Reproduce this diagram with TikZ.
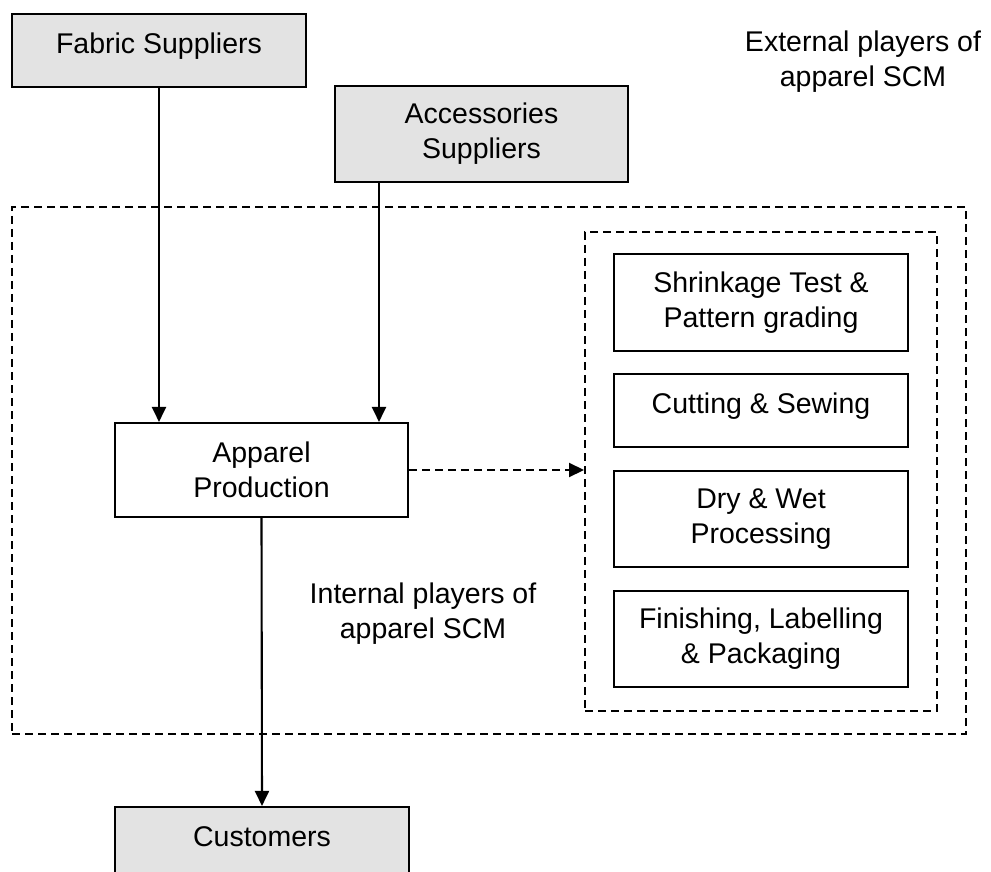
\documentclass[tikz,border=0pt]{standalone}
\usepackage{fontspec}
\setmainfont{Liberation Sans}
\usetikzlibrary{arrows.meta}
\begin{document}
\begin{tikzpicture}[x=1pt,y=-1pt,
  txt/.style={font=\fontsize{28.5}{35}\selectfont},
  box/.style={draw, line width=2.1pt, inner sep=0pt, align=center, txt},
  oneline/.style={text depth=14pt},
  supplier/.style={box, fill=black!11},
  frame/.style={draw, line width=2pt, dash pattern=on 8pt off 5pt, inner sep=0pt},
  flow/.style={line width=2.1pt, -{Triangle[length=15pt,width=14pt]}},
  dashflow/.style={flow, dash pattern=on 8pt off 5pt},
  note/.style={align=center, txt}]
\useasboundingbox (0,0) rectangle (991,872);
\clip (0,0) rectangle (991,872);

% dashed frames of the internal chain
\node[frame, minimum width=954, minimum height=527] (outer) at (489,470.5) {};
\node[frame, minimum width=352, minimum height=479] (inner) at (761,471.5) {};

% external players
\node[supplier, oneline, minimum width=294, minimum height=73] (fabric) at (159,50.5) {Fabric Suppliers};
\node[supplier, minimum width=293, minimum height=96] (acc) at (481.5,134) {Accessories\\Suppliers};
\node[supplier, oneline, minimum width=294, minimum height=73] (cust) at (262,843.5) {Customers};

% production and its stages
\node[box, minimum width=293, minimum height=94] (prod) at (261.5,470) {Apparel\\Production};
\node[box, minimum width=294, minimum height=97] (shrink) at (761,302.5) {Shrinkage Test \&\\Pattern grading};
\node[box, oneline, minimum width=294, minimum height=73] (cut) at (761,410.5) {Cutting \& Sewing};
\node[box, minimum width=294, minimum height=96] (dry) at (761,519) {Dry \& Wet\\Processing};
\node[box, minimum width=294, minimum height=96] (finish) at (761,639) {Finishing, Labelling\\\& Packaging};

% labels
\node[note] (extlabel) at (863,62) {External players of\\apparel SCM};
\node[note] (intlabel) at (423,614) {Internal players of\\apparel SCM};

% flows
\draw[flow] (fabric.south) -- (fabric.south |- prod.north);
\draw[flow] ([xshift=-102.5pt]acc.south) -- ([xshift=-102.5pt]acc.south |- prod.north);
\draw[flow] (prod.south) -- (cust.north);
\draw[dashflow] (prod.east) -- (prod.east -| inner.west);
\end{tikzpicture}
\end{document}
